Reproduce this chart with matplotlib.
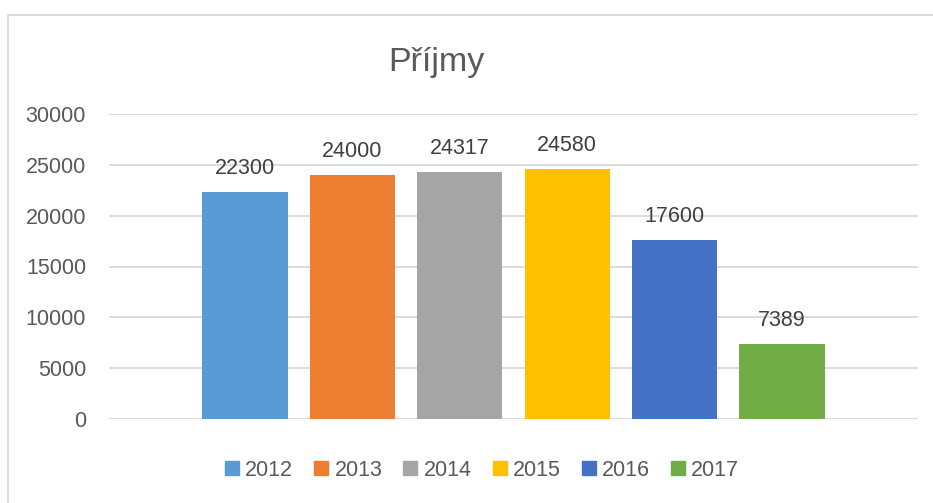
import numpy as np
import matplotlib
matplotlib.use("Agg")
import matplotlib.pyplot as plt
from matplotlib.patches import Rectangle

# Data
years = ["2012", "2013", "2014", "2015", "2016", "2017"]
values = [22300, 24000, 24317, 24580, 17600, 7389]
colors = ["#5b9bd5", "#ed7d31", "#a5a5a5", "#ffc000", "#4472c4", "#70ad47"]
yticks = [0, 5000, 10000, 15000, 20000, 25000, 30000]
title = "Příjmy"

plt.rcParams["font.family"] = ["Liberation Sans", "DejaVu Sans"]

W, H = 933, 503
fig = plt.figure(figsize=(W / 100, H / 100), dpi=100)
ax = fig.add_axes([109 / W, 1 - 419 / H, (918 - 109) / W, (419 - 114) / H])

x = np.arange(len(years))
bars = ax.bar(x, values, width=0.794, color=colors, label=years, zorder=3)

for xi, v in zip(x, values):
    ax.annotate(str(v), (xi, v), xytext=(0, 13), textcoords="offset points",
                ha="center", va="baseline", fontsize=15.5, color="#404040")

ax.set_xlim(-1.266, len(years) - 1 + 1.266)
ax.set_ylim(0, 30000)
ax.set_yticks(yticks)
ax.set_yticklabels([str(t) for t in yticks])
ax.set_xticks([])
ax.tick_params(axis="y", length=0, pad=16.5, labelsize=15.5, labelcolor="#595959")
ax.grid(axis="y", color="#d9d9d9", linewidth=1.3, zorder=0)
for s in ax.spines.values():
    s.set_visible(False)

fig.text(436 / W, 1 - 62 / H, title, ha="center", va="center",
         fontsize=24.5, color="#595959")

handles = [Rectangle((0, 0), 1, 1, color=c) for c in colors]
fig.legend(handles, years, loc="center", bbox_to_anchor=(482 / W, 1 - 470 / H),
           ncol=6, frameon=False, fontsize=15.5, labelcolor="#595959",
           handlelength=0.65, handleheight=0.65, handletextpad=0.28,
           columnspacing=0.98, borderpad=0)

# outer chart frame
fig.patches.append(Rectangle((8 / W, -0.1), 1.2, 1 - 15 / H + 0.1,
                             transform=fig.transFigure, fill=False,
                             edgecolor="#d9d9d9", linewidth=1.3))

fig.savefig("out.png", dpi=100)
